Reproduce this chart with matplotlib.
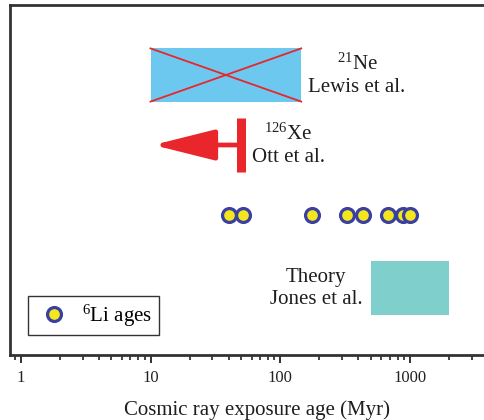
import matplotlib
matplotlib.use("agg")
from matplotlib import pyplot as plt
from matplotlib.patches import Rectangle
from matplotlib.lines import Line2D

plt.rcParams['font.family'] = ['Liberation Serif', 'DejaVu Serif']
plt.rcParams['mathtext.fontset'] = 'custom'
plt.rcParams['mathtext.rm'] = 'Liberation Serif'
plt.rcParams['mathtext.it'] = 'Liberation Serif:italic'

# exposure ages (Myr)
li6_ages = [40, 52, 175, 325, 430, 680, 880, 1000]
ne21_range = [10, 145]
xe126_upper = 50
xe126_arrow_tip = 10.5
theory_range = [500, 2000]

# row levels (arbitrary vertical units)
row_ne, row_xe, row_li, row_theory = 8.0, 6.0, 4.0, 1.9

red = '#e8262b'
txt = '#1e1e1e'

fig = plt.figure(figsize=(4.84, 4.20), dpi=100)
ax = fig.add_axes([10/484, 65/420, 474/484, 350/420])
ax.set_xscale('log')
ax.set_xlim(0.827, 3710)
ax.set_ylim(0, 10)

# 21Ne box with cross
ax.add_patch(Rectangle((ne21_range[0], row_ne - 0.76), ne21_range[1] - ne21_range[0], 1.52,
                       facecolor='#6cc8ee', edgecolor='none', zorder=1))
ax.plot(ne21_range, [row_ne + 0.76, row_ne - 0.76], color=red, lw=1.3, zorder=2)
ax.plot(ne21_range, [row_ne - 0.76, row_ne + 0.76], color=red, lw=1.3, zorder=2)
ax.text(390, row_ne, '$^{21}$Ne\nLewis et al.', ha='center', va='center',
        fontsize=15, color=txt, linespacing=1.2)

# 126Xe upper limit
ax.vlines(xe126_upper, row_xe - 0.76, row_xe + 0.76, color=red, lw=6.5, zorder=3)
ax.annotate('', xy=(xe126_arrow_tip, row_xe), xytext=(xe126_upper, row_xe),
            arrowprops=dict(arrowstyle='-|>,head_length=3.8,head_width=0.95',
                            color=red, lw=3.4, shrinkA=0, shrinkB=0, mutation_scale=10))
ax.text(115, row_xe, '$^{126}$Xe\nOtt et al.', ha='center', va='center',
        fontsize=15, color=txt, linespacing=1.2)

# 6Li ages
ax.plot(li6_ages, [row_li] * len(li6_ages), 'o', ms=10, mfc='#f3e61c',
        mec='#3a3fa2', mew=2.3, ls='none', zorder=4)

# theory box
ax.add_patch(Rectangle((theory_range[0], row_theory - 0.77), theory_range[1] - theory_range[0], 1.55,
                       facecolor='#7fd0cc', edgecolor='none', zorder=1))
ax.text(188, row_theory, 'Theory\nJones et al.', ha='center', va='center',
        fontsize=15, color=txt, linespacing=1.2)

handle = Line2D([], [], marker='o', ls='none', ms=10, mfc='#f3e61c', mec='#3a3fa2', mew=2.3)
leg = ax.legend([handle], ['$^6$Li ages'], loc='lower left', bbox_to_anchor=(0.038, 0.057),
                borderaxespad=0, fancybox=False, framealpha=1, edgecolor='#333333',
                fontsize=15, handlelength=1.9, handletextpad=0.4, borderpad=0.3)
leg.get_frame().set_linewidth(1.0)

ax.spines['right'].set_visible(False)
for s in ['left', 'top', 'bottom']:
    ax.spines[s].set_linewidth(2)
    ax.spines[s].set_color('#333333')
ax.set_yticks([])
ax.tick_params(axis='x', which='major', length=6, width=1.3, direction='out',
               labelsize=12, pad=5, colors='#222222')
ax.tick_params(axis='x', which='minor', length=3.5, width=1.2, direction='out', colors='#222222')
ax.set_xticks([1, 10, 100, 1000])
ax.set_xticklabels(['1', '10', '100', '1000'])
ax.set_xlabel('Cosmic ray exposure age (Myr)', fontsize=15, color=txt)
ax.xaxis.set_label_coords(247/474, -0.13)

plt.savefig('out.png', dpi=100)
